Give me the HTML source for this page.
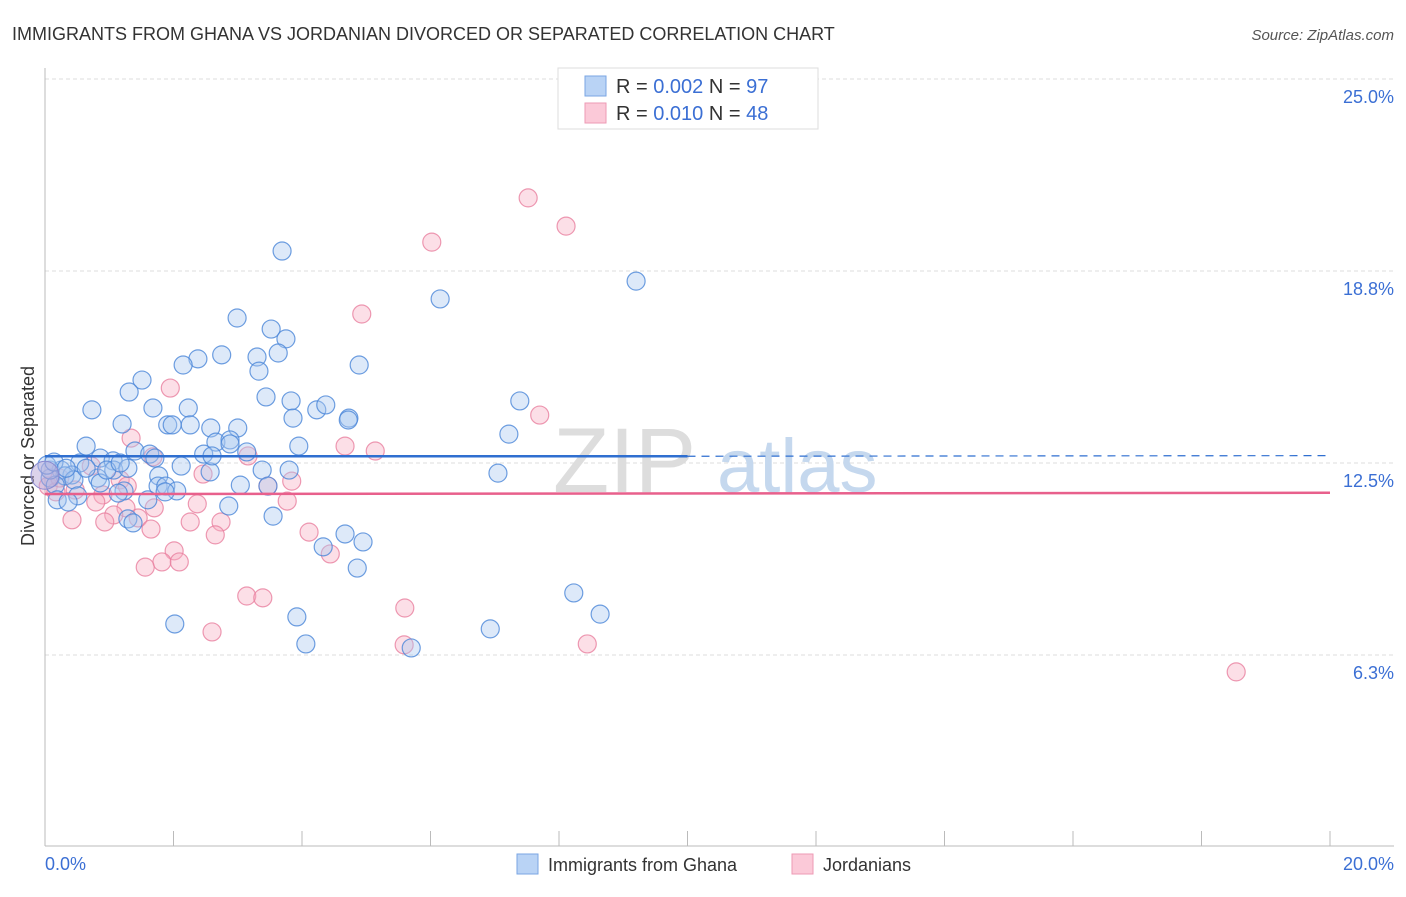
<!DOCTYPE html>
<html><head><meta charset="utf-8"><style>
body{margin:0;background:#fff;font-family:"Liberation Sans",sans-serif;}
svg text{font-family:"Liberation Sans",sans-serif;}
</style></head><body>
<svg id="chart" width="1406" height="892" viewBox="0 0 1406 892" xmlns="http://www.w3.org/2000/svg">
<text x="12" y="40" font-size="18" fill="#333">IMMIGRANTS FROM GHANA VS JORDANIAN DIVORCED OR SEPARATED CORRELATION CHART</text>
<text x="1394" y="40" font-size="15" fill="#555" font-style="italic" text-anchor="end">Source: ZipAtlas.com</text>
<g id="grid"></g>
<g><text x="553" y="492" font-size="92" font-family="Liberation Serif" fill="#ddd">ZIP</text><text x="717" y="492" font-size="76" fill="#c5d8ee">atlas</text></g>
<line x1="45" y1="68" x2="45" y2="846" stroke="#bbb"/>
<line x1="45" y1="846" x2="1394" y2="846" stroke="#bbb"/>
<g id="xticks"></g>
<g id="ylabels"></g>
<text x="45" y="870" font-size="18" fill="#3b6fd4">0.0%</text>
<text x="1394" y="870" font-size="18" fill="#3b6fd4" text-anchor="end">20.0%</text>
<text transform="translate(34,456) rotate(-90)" font-size="18" fill="#333" text-anchor="middle">Divorced or Separated</text>
<g id="pts"></g>
<g id="trends"></g>
<g>
<rect x="558" y="68" width="260" height="61" fill="#fff" stroke="#ddd"/>
<rect x="585" y="76" width="21" height="20" fill="#b9d3f5" stroke="#7aa6e3"/>
<text x="616" y="93" font-size="20" fill="#333">R = <tspan fill="#3b6fd4">0.002</tspan>   N = <tspan fill="#3b6fd4">97</tspan></text>
<rect x="585" y="103" width="21" height="20" fill="#fbc9d8" stroke="#ee9ab4"/>
<text x="616" y="120" font-size="20" fill="#333">R =  <tspan fill="#3b6fd4">0.010</tspan>   N = <tspan fill="#3b6fd4">48</tspan></text>
</g>
<g>
<rect x="517" y="854" width="21" height="20" fill="#b9d3f5" stroke="#7aa6e3"/>
<text x="548" y="871" font-size="18" fill="#333">Immigrants from Ghana</text>
<rect x="792" y="854" width="21" height="20" fill="#fbc9d8" stroke="#ee9ab4"/>
<text x="823" y="871" font-size="18" fill="#333">Jordanians</text>
</g>
</svg>
<script>
const yTicks=[25,18.75,12.5,6.25];
const yTickLabels=["25.0%","18.8%","12.5%","6.3%"];
const xTicks=[0,2,4,6,8,10,12,14,16,18,20];
const ghanaX=[3.69,9.20,6.15,2.99,3.52,3.75,3.63,2.75,2.38,3.30,2.15,4.89,3.33,1.51,1.31,3.44,3.83,7.39,1.68,0.73,2.23,4.23,4.37,4.73,4.72,1.20,1.91,1.98,2.26,2.58,3.00,3.86,7.22,0.64,2.66,2.88,3.95,3.14,1.40,1.63,1.71,2.47,0.86,1.06,0.54,0.25,0.42,2.12,2.57,3.38,3.80,1.07,1.29,7.05,1.77,0.31,0.82,0.45,0.08,0.16,0.86,1.76,1.88,3.47,2.05,1.87,1.23,1.14,0.51,0.19,0.36,1.60,2.86,3.55,1.29,1.37,4.67,4.33,4.95,4.86,8.23,8.64,3.92,2.02,6.93,4.06,5.70,0.08,0.03,0.14,0.33,0.64,0.96,1.17,2.88,2.60,3.04];
const ghanaY=[19.40,18.42,17.84,17.22,16.86,16.54,16.08,16.02,15.89,15.95,15.69,15.69,15.49,15.20,14.81,14.65,14.52,14.52,14.29,14.23,14.29,14.23,14.39,13.96,13.90,13.77,13.74,13.74,13.74,13.64,13.64,13.96,13.44,13.05,13.18,13.25,13.05,12.86,12.89,12.79,12.66,12.79,12.66,12.57,12.50,12.27,12.11,12.40,12.21,12.27,12.27,12.27,12.33,12.17,12.08,12.08,12.01,11.95,12.01,11.78,11.85,11.75,11.75,11.75,11.59,11.56,11.59,11.52,11.43,11.30,11.23,11.30,11.10,10.77,10.68,10.55,10.19,9.77,9.93,9.08,8.27,7.58,7.49,7.26,7.10,6.61,6.48,12.27,12.43,12.53,12.33,12.33,12.27,12.50,13.12,12.73,11.78];
const jordanX=[7.52,8.11,6.02,4.93,1.95,7.70,1.34,4.67,5.14,3.16,1.68,0.72,2.46,1.17,3.84,0.05,0.17,0.90,3.47,3.77,0.79,1.26,1.70,2.37,1.07,1.45,0.42,0.93,2.26,2.74,1.65,2.65,4.11,4.44,2.01,1.82,2.09,1.56,3.14,3.39,5.60,2.60,5.59,8.44,18.54,0.23,0.47,1.28];
const jordanY=[21.13,20.21,19.69,17.35,14.94,14.06,13.31,13.05,12.89,12.73,12.70,12.40,12.14,11.95,11.91,11.75,11.56,11.46,11.75,11.26,11.23,11.04,11.04,11.17,10.81,10.71,10.65,10.58,10.58,10.58,10.35,10.16,10.25,9.54,9.64,9.28,9.28,9.11,8.17,8.11,7.78,7.00,6.58,6.61,5.70,12.01,11.62,11.75];
const ghanaTrend=[12.72,12.74];
const jordanTrend=[11.49,11.53];
const NS="http://www.w3.org/2000/svg";
const sx=v=>45+v*64.25, sy=v=>79+(25-v)*30.72;
function mk(tag,attrs,parent){const e=document.createElementNS(NS,tag);for(const k in attrs)e.setAttribute(k,attrs[k]);parent.appendChild(e);return e;}
const grid=document.getElementById('grid'),yl=document.getElementById('ylabels'),xt=document.getElementById('xticks');
yTicks.forEach((t,i)=>{
 const l=mk('line',{x1:45,x2:1394,y1:sy(t),y2:sy(t),stroke:'#ddd','stroke-dasharray':'4,3'},grid);
 
 
 const tx=mk('text',{x:1394,y:sy(t)+24,'font-size':18,fill:'#3b6fd4','text-anchor':'end'},yl);
 tx.textContent=yTickLabels[i];
 
 
});
xTicks.forEach(t=>{
 const l=mk('line',{x1:sx(t),x2:sx(t),y1:831,y2:846,stroke:'#bbb'},xt);
 
 
});
const pts=document.getElementById('pts');
function draw(xs,ys,fill,stroke,name){xs.forEach((x,i)=>{
 const c=mk('circle',{cx:sx(x),cy:sy(ys[i]),r:9,fill:fill,'fill-opacity':0.4,stroke:stroke,'stroke-width':1.2,'stroke-opacity':0.8},pts);
 
 
});}
draw(jordanX,jordanY,'#f7aec4','#e8809f','jordan-point');
draw(ghanaX,ghanaY,'#a9c8f0','#4a86d8','ghana-point');
const big=mk('circle',{cx:sx(0),cy:sy(12.1),r:14,fill:'#b9a8d8','fill-opacity':0.5,stroke:'#8a8ad0'},pts);


const tr=document.getElementById('trends');
const g1=mk('line',{x1:sx(0),x2:sx(10),y1:sy(ghanaTrend[0]),y2:sy(ghanaTrend[0]),stroke:'#2f6fd0','stroke-width':2.5},tr);


const g2=mk('line',{x1:sx(10),x2:sx(20),y1:sy(ghanaTrend[0]),y2:sy(ghanaTrend[1]),stroke:'#2f6fd0','stroke-width':1.2,'stroke-dasharray':'8,6'},tr);


const j1=mk('line',{x1:sx(0),x2:sx(20),y1:sy(jordanTrend[0]),y2:sy(jordanTrend[1]),stroke:'#e8608c','stroke-width':2.5},tr);


</script>
</body></html>
